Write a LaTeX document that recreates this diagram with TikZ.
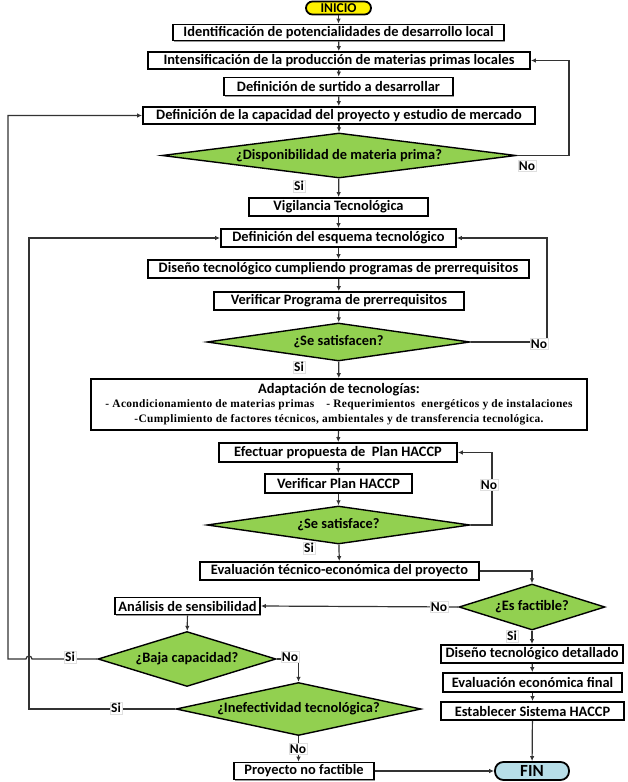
\documentclass[tikz,border=0pt]{standalone}
\usepackage{fontspec}
\setmainfont{Carlito}
\newfontfamily\serifb[LetterSpace=3,UprightFont={* Bold},BoldFont={* Bold}]{Liberation Serif}
\usetikzlibrary{shapes.geometric,arrows.meta,shadows}
\definecolor{dgreen}{HTML}{92D050}
\definecolor{finblue}{HTML}{B7DEE8}
\definecolor{linec}{HTML}{333333}
\begin{document}
\begin{tikzpicture}[x=1pt,y=-1pt,
  txt/.style={font=\bfseries\fontsize{14.4}{16}\selectfont},
  box/.style={txt,draw=black,line width=1.8pt,fill=white,inner sep=0pt,
    drop shadow={shadow xshift=1pt,shadow yshift=-1pt,fill=gray,opacity=0.8}},
  dec/.style={txt,diamond,draw=black,line width=1.4pt,fill=dgreen,inner sep=0pt},
  lab/.style={font=\bfseries\fontsize{13.5}{15}\selectfont,fill=white,draw=gray!25,line width=0.4pt,inner sep=1pt},
  conn/.style={draw=linec,line width=1.2pt,-{Latex[length=5pt,width=4.5pt]}},
  ln/.style={draw=linec,line width=1.2pt}]
\useasboundingbox (0,0) rectangle (627,782);
% named x positions
\coordinate (l1) at (8,0);
\coordinate (l2) at (29,0);
\coordinate (r1) at (569,0);
\coordinate (r2) at (547,0);
\coordinate (r3) at (492,0);
\coordinate (hr) at (32,659);
% nodes
\node[txt,draw=black,line width=1.8pt,fill=yellow,rounded corners=6.5pt,inner sep=0pt,minimum width=65pt,minimum height=13pt,font=\bfseries\fontsize{13.5}{14}\selectfont] (ini) at (338.5,8) {INICIO};
\node[box,minimum width=331pt,minimum height=16pt] (b1) at (338.5,32.5) {Identificación de potencialidades de desarrollo local};
\node[box,minimum width=382pt,minimum height=17pt] (b2) at (339,60.5) {Intensificación de la producción de materias primas locales};
\node[box,minimum width=229pt,minimum height=18pt] (b3) at (338.5,86.5) {Definición de surtido a desarrollar};
\node[box,minimum width=392pt,minimum height=17pt] (b4) at (339,115.5) {Definición de la capacidad del proyecto y estudio de mercado};
\node[dec,shape aspect=7.9,minimum width=354pt,minimum height=45pt] (d1) at (339,155.5) {¿Disponibilidad de materia prima?};
\node[box,minimum width=179pt,minimum height=18pt] (b5) at (338.5,207) {Vigilancia Tecnológica};
\node[box,minimum width=235pt,minimum height=18pt] (b6) at (338.5,238) {Definición del esquema tecnológico};
\node[box,minimum width=381pt,minimum height=18pt] (b7) at (338.5,269) {Diseño tecnológico cumpliendo programas de prerrequisitos};
\node[box,minimum width=250pt,minimum height=18pt] (b8) at (339,301) {Verificar Programa de prerrequisitos};
\node[dec,shape aspect=7,minimum width=263pt,minimum height=38pt] (d2) at (338.5,342) {¿Se satisfacen?};
\node[box,minimum width=496pt,minimum height=51pt,align=center] (b9) at (339,404.5) {Adaptación de tecnologías:\\[-2pt]
  {\serifb\fontsize{11.4}{12}\selectfont - Acondicionamiento de materias primas \enspace\ - Requerimientos \ energéticos y de instalaciones}\\[-1pt]
  {\serifb\fontsize{11.4}{12}\selectfont -Cumplimiento de factores técnicos, ambientales y de transferencia tecnológica.}};
\node[box,minimum width=238pt,minimum height=19pt] (b10) at (338,452.5) {Efectuar propuesta de \ Plan HACCP};
\node[box,minimum width=147pt,minimum height=19pt] (b11) at (338.5,483.5) {Verificar Plan HACCP};
\node[dec,shape aspect=7,minimum width=263pt,minimum height=38pt] (d3) at (338.5,525) {¿Se satisface?};
\node[box,minimum width=279pt,minimum height=18pt] (b12) at (339.5,571) {Evaluación técnico-económica del proyecto};
\node[dec,shape aspect=3.2,minimum width=146pt,minimum height=46pt] (d4) at (532,607) {¿Es factible?};
\node[box,minimum width=145pt,minimum height=17pt] (b13) at (187.5,606) {Análisis de sensibilidad};
\node[dec,shape aspect=3.2,minimum width=178pt,minimum height=55pt] (d5) at (187,659) {¿Baja capacidad?};
\node[dec,shape aspect=4.6,minimum width=245pt,minimum height=53pt] (d6) at (298.5,709) {¿Inefectividad tecnológica?};
\node[box,minimum width=182pt,minimum height=18pt] (b15) at (532,654) {Diseño tecnológico detallado};
\node[box,minimum width=179pt,minimum height=19pt] (b16) at (532.5,682.5) {Evaluación económica final};
\node[box,minimum width=183pt,minimum height=18pt] (b17) at (532.5,711) {Establecer Sistema HACCP};
\node[box,minimum width=140pt,minimum height=17pt] (b14) at (304,771) {Proyecto no factible};
\node[txt,draw=black,line width=1.8pt,fill=finblue,rounded corners=8.5pt,inner sep=0pt,minimum width=74pt,minimum height=18pt,font=\bfseries\fontsize{17}{18}\selectfont] (fin) at (532,771) {FIN};
% connectors
\draw[conn] (ini) -- (b1);
\draw[conn] (b1) -- (b2);
\draw[conn] (b2) -- (b3);
\draw[conn] (b3) -- (b4);
\draw[conn] (b4) -- (d1);
\draw[conn] (d1) -- (b5);
\draw[conn] (d1.east) -- (d1.east -| r1) |- (b2.east);
\draw[conn] (b5) -- (b6);
\draw[conn] (b6) -- (b7);
\draw[conn] (b7) -- (b8);
\draw[conn] (b8) -- (d2);
\draw[conn] (d2) -- (b9);
\draw[conn] (d2.east) -- (d2.east -| r2) |- (b6.east);
\draw[conn] (b9) -- (b10);
\draw[conn] (b10) -- (b11);
\draw[conn] (b11) -- (d3);
\draw[conn] (d3) -- (b12);
\draw[conn] (d3.east) -- (d3.east -| r3) |- (b10.east);
\draw[conn] (b12.east) -| (d4.north);
\draw[conn] (d4.west) -- (b13.east);
\draw[conn] (b13) -- (d5);
\draw[conn] (d5.east) -| (d6.north);
\draw[conn] (d5.west) -- (hr) arc[start angle=0,end angle=180,radius=3pt] -- (d5.west -| l1) |- (b4.west);
\draw[conn] (d6.west) -- (d6.west -| l2) |- (b6.west);
\draw[conn] (d6.south) -- (d6.south |- b14.north);
\draw[conn] (b14.east) -- (fin.west);
\draw[conn] (d4.south) -- (b15.north);
\draw[conn] (b15) -- (b16);
\draw[conn] (b16) -- (b17);
\draw[conn] (b17) -- (fin);
% labels
\node[lab] (n1) at (527,166) {No};
\node[lab] (s1) at (299,186) {Si};
\node[lab] (n2) at (539,344) {No};
\node[lab] (s2) at (299,367) {Si};
\node[lab] (n3) at (489,485) {No};
\node[lab] (s3) at (309,548) {Si};
\node[lab] (n4) at (439,607) {No};
\node[lab] (s4) at (512,636) {Si};
\node[lab] (s5) at (70,657) {Si};
\node[lab] (n5) at (290,657) {No};
\node[lab] (s6) at (116,708) {Si};
\node[lab] (n6) at (298,749) {No};
\end{tikzpicture}
\end{document}
